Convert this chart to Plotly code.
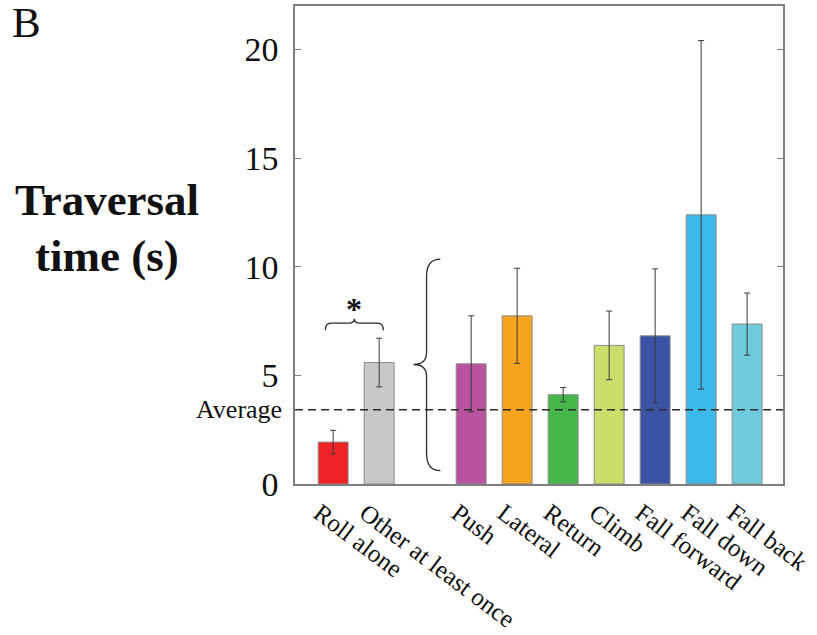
import plotly.graph_objects as go

# Behaviour categories and their traversal-time statistics (seconds)
categories = ["Roll alone", "Other at least once", "Push", "Lateral", "Return",
              "Climb", "Fall forward", "Fall down", "Fall back"]
positions = [0, 1, 3, 4, 5, 6, 7, 8, 9]
mean_time = [1.93, 5.59, 5.53, 7.74, 4.11, 6.38, 6.82, 12.39, 7.36]
err_time = [0.54, 1.12, 2.21, 2.19, 0.33, 1.58, 3.08, 8.02, 1.43]
bar_colors = ["#ee2326", "#c7c8ca", "#b9529f", "#f6a41d", "#45b649",
              "#cbdd6a", "#3a53a4", "#3cb9e8", "#6dcbdb"]
average_time = 3.42
y_ticks = [0, 5, 10, 15, 20]

SERIF = "Liberation Serif, Times New Roman, serif"
INK = "#2b2b2b"

fig = go.Figure()
fig.add_trace(go.Bar(
    x=positions, y=mean_time, width=0.65,
    marker=dict(color=bar_colors, line=dict(color="#8c8c8c", width=1)),
    error_y=dict(type="data", array=err_time, visible=True,
                 color="#3a3a3a", thickness=1, width=3),
    showlegend=False,
))

# Dashed line marking the overall average
fig.add_shape(type="line", xref="paper", x0=0, x1=1, yref="y",
              y0=average_time, y1=average_time,
              line=dict(color=INK, width=1.5, dash="8px,5px"))


def hbrace(x0, x1, y_end, y_line, y_tip, r):
    xm = (x0 + x1) / 2
    return (f"M {x0},{y_end} Q {x0},{y_line} {x0 + r},{y_line} "
            f"L {xm - r},{y_line} Q {xm},{y_line} {xm},{y_tip} "
            f"Q {xm},{y_line} {xm + r},{y_line} L {x1 - r},{y_line} "
            f"Q {x1},{y_line} {x1},{y_end}")


def vbrace(x_end, x_spine, x_tip, y_top, y_mid, y_bot, r_end, r_tip):
    return (f"M {x_end},{y_top} Q {x_spine},{y_top} {x_spine},{y_top - r_end} "
            f"L {x_spine},{y_mid + r_tip} Q {x_spine},{y_mid} {x_tip},{y_mid} "
            f"Q {x_spine},{y_mid} {x_spine},{y_mid - r_tip} "
            f"L {x_spine},{y_bot + r_end} Q {x_spine},{y_bot} {x_end},{y_bot}")


# Brace comparing "Roll alone" with "Other at least once"
fig.add_shape(type="path", xref="x", yref="y",
              path=hbrace(-0.17, 1.09, 7.08, 7.40, 7.60, 0.12),
              line=dict(color=INK, width=1.3))
fig.add_annotation(x=0.46, y=8.05, xref="x", yref="y", text="<b>*</b>",
                   showarrow=False, font=dict(family=SERIF, size=32, color="#111"))

# Brace grouping the individual "other" behaviours
fig.add_shape(type="path", xref="x", yref="y",
              path=vbrace(2.33, 2.03, 1.75, 10.35, 5.5, 0.62, 0.8, 0.55),
              line=dict(color=INK, width=1.3))

fig.add_annotation(x=0, xref="paper", xshift=-11, xanchor="right",
                   y=average_time, yref="y", yanchor="middle", text="Average",
                   showarrow=False, font=dict(family=SERIF, size=26, color="#111"))

fig.add_annotation(x=-0.385, y=0.594, xref="paper", yref="paper", xanchor="center",
                   yanchor="middle", text="<b>Traversal</b>",
                   showarrow=False, font=dict(family=SERIF, size=45, color="#111"))
fig.add_annotation(x=-0.385, y=0.478, xref="paper", yref="paper", xanchor="center",
                   yanchor="middle", text="<b>time (s)</b>",
                   showarrow=False, font=dict(family=SERIF, size=45, color="#111"))
fig.add_annotation(x=-0.584, y=1.012, xref="paper", yref="paper", xanchor="left",
                   yanchor="top", yshift=3, text="B", showarrow=False,
                   font=dict(family=SERIF, size=43, color="#111"))

axis_line = dict(showline=True, linecolor="#808080", linewidth=1.5, mirror=True,
                 showgrid=False, zeroline=False, automargin=False)

fig.update_layout(
    width=817, height=635,
    margin=dict(l=295, r=34, t=6, b=151),
    paper_bgcolor="white", plot_bgcolor="white",
    font=dict(family=SERIF, color="#111"),
    xaxis=dict(range=[-0.83, 9.78], tickmode="array", tickvals=positions,
               ticktext=categories, tickangle=37, ticks="",
               ticklabeloverflow="allow", ticklabelshift=-14, ticklabelstandoff=3,
               tickfont=dict(family=SERIF, size=25, color="#111"), **axis_line),
    yaxis=dict(range=[0, 22], tickmode="array", tickvals=y_ticks,
               ticks="inside", ticklen=6, tickcolor="#808080", tickwidth=1,
               ticklabelstandoff=8,
               tickfont=dict(family=SERIF, size=34, color="#111"),
               **{**axis_line, "mirror": "allticks"}),
)

fig.write_html("out.html")
